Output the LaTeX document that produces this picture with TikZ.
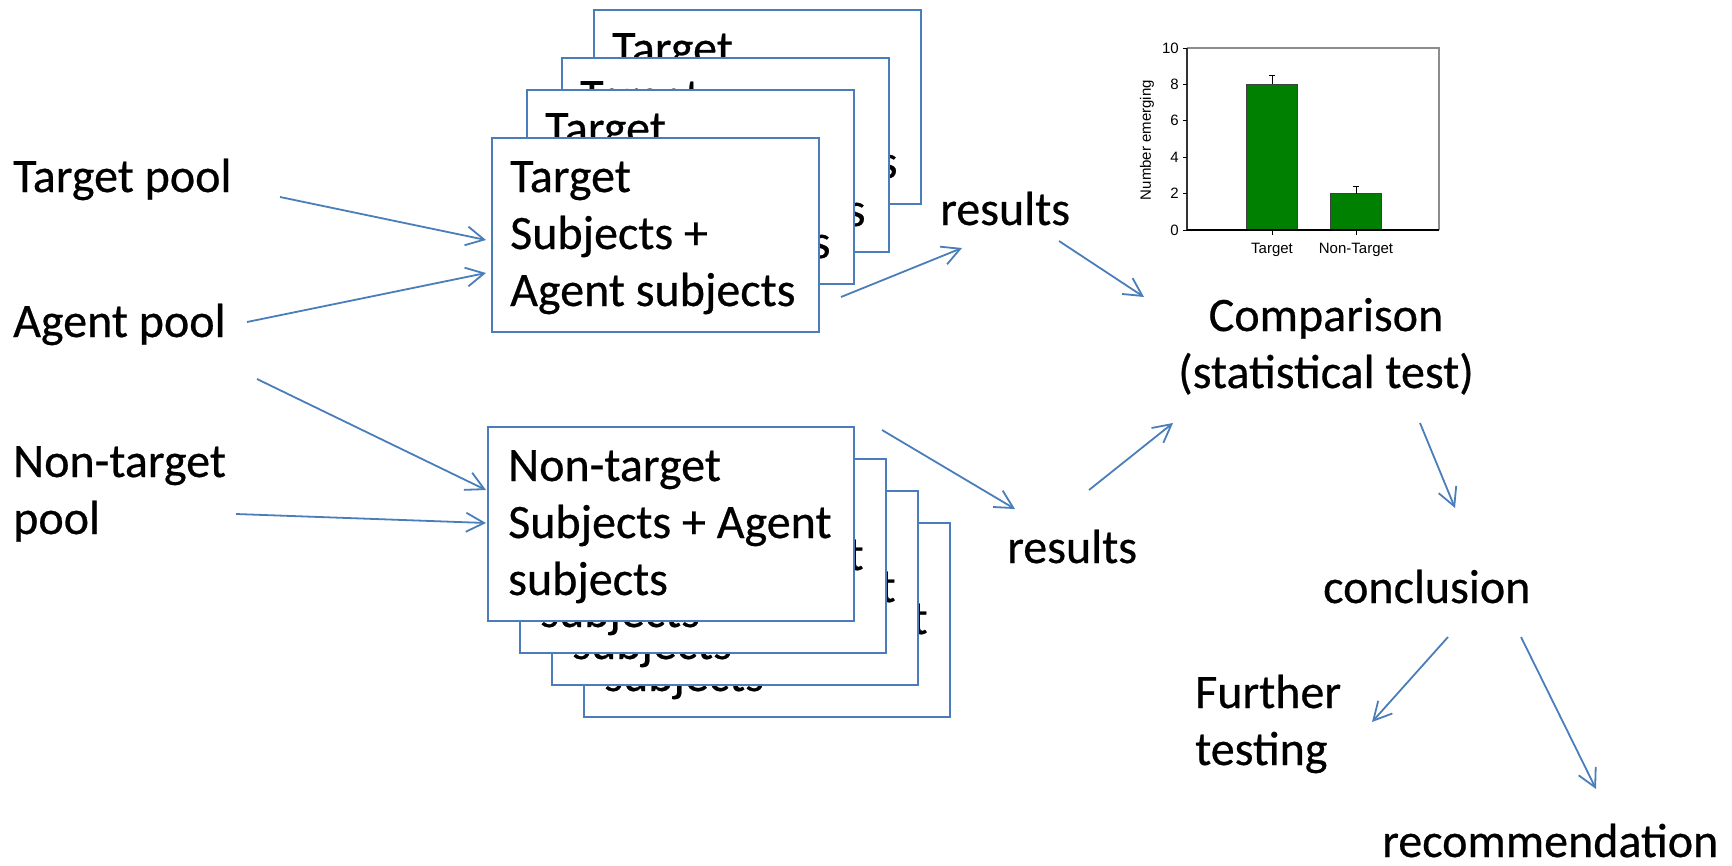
\documentclass[tikz,border=0pt]{standalone}
\usepackage{fontspec}
\setmainfont{Carlito}[FakeBold=0.5]
\newfontfamily\chartfont{Liberation Sans}
\usetikzlibrary{arrows.meta}
\definecolor{pptblue}{HTML}{4A7EBB}
\definecolor{bargreen}{HTML}{008000}
\begin{document}
\begin{tikzpicture}[x=1pt,y=-1pt,
  big/.style={font=\fontsize{48}{57}\selectfont, inner sep=0pt},
  label/.style={big, anchor=base west},
  boxtext/.style={big, anchor=base west, text width=420pt, align=flush left},
  card/.style={draw=pptblue, line width=2pt, fill=white, inner sep=0pt, anchor=north west, minimum height=194pt},
  tcard/.style={card, minimum width=327pt},
  ncard/.style={card, minimum width=366pt},
  flow/.style={draw=pptblue, line width=1.8pt, -{Straight Barb[length=18pt,width=19pt,line width=1.8pt]}},
  small/.style={font=\chartfont\fontsize{15}{17}\selectfont, inner sep=0pt},
  bar/.style={fill=bargreen, draw=black!75, line width=1pt}
]
\useasboundingbox (0,0) rectangle (1732,865);

% ---- target stack (back to front)
\node[tcard] (t4) at (593,9) {};
\node[boxtext] (t4t) at ([xshift=19pt,yshift=-55pt]t4.north west) {Target\\Subjects +\\Agent subjects};
\node[tcard] (t3) at (561,57) {};
\node[boxtext] (t3t) at ([xshift=19pt,yshift=-55pt]t3.north west) {Target\\Subjects +\\Agent subjects};
\node[tcard] (t2) at (526,89) {};
\node[boxtext] (t2t) at ([xshift=19pt,yshift=-55pt]t2.north west) {Target\\Subjects +\\Agent subjects};
\node[tcard] (t1) at (491,137) {};
\node[boxtext] (t1t) at ([xshift=19pt,yshift=-55pt]t1.north west) {Target\\Subjects +\\Agent subjects};

% ---- non-target stack (back to front)
\node[ncard] (n4) at (583,522) {};
\node[boxtext] (n4t) at ([xshift=21pt,yshift=-55pt]n4.north west) {Non-target\\Subjects + Agent\\subjects};
\node[ncard] (n3) at (551,490) {};
\node[boxtext] (n3t) at ([xshift=21pt,yshift=-55pt]n3.north west) {Non-target\\Subjects + Agent\\subjects};
\node[ncard] (n2) at (519,458) {};
\node[boxtext] (n2t) at ([xshift=21pt,yshift=-55pt]n2.north west) {Non-target\\Subjects + Agent\\subjects};
\node[ncard] (n1) at (487,426) {};
\node[boxtext] (n1t) at ([xshift=21pt,yshift=-55pt]n1.north west) {Non-target\\Subjects + Agent\\subjects};

% ---- labels
\node[label] (tpool) at (13,192) {Target pool};
\node[label] (apool) at (13,337) {Agent pool};
\node[boxtext] (npool) at (13,477) {Non-target\\pool};
\node[label] (res1) at (940,225) {results};
\node[label] (res2) at (1007,563) {results};
\node[big, anchor=base, text width=420pt, align=flush center] (comp) at (1326,331) {Comparison\\(statistical test)};
\node[label] (concl) at (1323,603) {conclusion};
\node[boxtext] (further) at (1195,708) {Further\\testing};
\node[label] (recomm) at (1382,857) {recommendation};

% ---- connector end points
\coordinate (a1s) at (280,197);  \coordinate (a1e) at (486,240);
\coordinate (a2s) at (247,322);  \coordinate (a2e) at (486,273);
\coordinate (a3s) at (257,379);  \coordinate (a3e) at (486,490);
\coordinate (a4s) at (236,514);  \coordinate (a4e) at (486,523);
\coordinate (a5s) at (841,297);  \coordinate (a5e) at (962,248);
\coordinate (a6s) at (1059,241); \coordinate (a6e) at (1144,297);
\coordinate (a7s) at (882,430);  \coordinate (a7e) at (1015,509);
\coordinate (a8s) at (1089,490); \coordinate (a8e) at (1173,423);
\coordinate (a9s) at (1420,423); \coordinate (a9e) at (1455,508);
\coordinate (a10s) at (1448,637); \coordinate (a10e) at (1372,722);
\coordinate (a11s) at (1521,637); \coordinate (a11e) at (1596,789);

\draw[flow] (a1s) -- (a1e);
\draw[flow] (a2s) -- (a2e);
\draw[flow] (a3s) -- (a3e);
\draw[flow] (a4s) -- (a4e);
\draw[flow] (a5s) -- (a5e);
\draw[flow] (a6s) -- (a6e);
\draw[flow] (a7s) -- (a7e);
\draw[flow] (a8s) -- (a8e);
\draw[flow] (a9s) -- (a9e);
\draw[flow] (a10s) -- (a10e);
\draw[flow] (a11s) -- (a11e);

% ---- bar chart
\draw[black!45, line width=1.2pt] (1187,48) -- (1439,48) -- (1439,230);
\draw[bar] (1246,230) rectangle (1297,84.4);
\draw[bar] (1330,230) rectangle (1381,193.6);
\draw[black, line width=1pt] (1272,84.4) -- (1272,75.3) (1269,75.3) -- (1275,75.3);
\draw[black, line width=1pt] (1356,193.6) -- (1356,186.3) (1353,186.3) -- (1359,186.3);
\draw[black!80, line width=1.4pt] (1187,48) -- (1187,230);
\draw[black, line width=1.4pt] (1187,230) -- (1439,230);
\foreach \v in {0,2,4,6,8,10} {
  \draw[black, line width=1pt] (1183,230-\v*18.2) -- (1187,230-\v*18.2);
  \node[small, anchor=east] (yt\v) at (1179,230-\v*18.2) {\v};
}
\draw[black, line width=1pt] (1272,230) -- (1272,235) (1356,230) -- (1356,235);
\node[small, anchor=base] (xl1) at (1272,253) {Target};
\node[small, anchor=base] (xl2) at (1356,253) {Non-Target};
\node[small, rotate=90] (ylab) at (1147,140) {Number emerging};
\end{tikzpicture}
\end{document}
